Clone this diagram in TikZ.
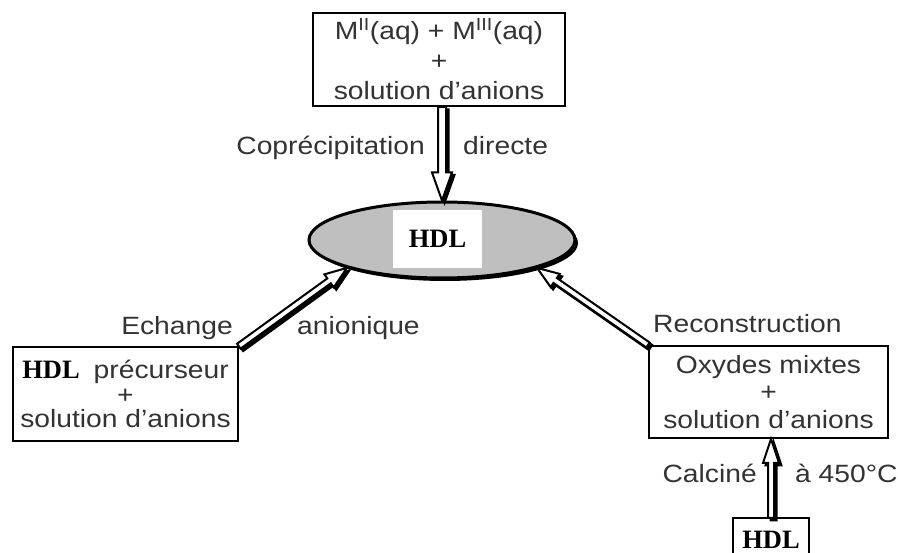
\documentclass[tikz,border=0pt]{standalone}
\usepackage{fontspec}
\setmainfont{Liberation Sans}[FakeStretch=1.13]
\newfontfamily\hdlserif{Liberation Serif}
\usetikzlibrary{calc,shadows,shapes.geometric}
\newcommand{\hdl}{{\color{black}\hdlserif\bfseries\fontsize{26.5}{30}\selectfont HDL}}
\newcommand{\harrow}[5]{%
  \draw[arrowbody] ($(#1)!#3!90:(#2)$) -- ($(#2)!#5!(#1)!#3!-90:(#1)$) -- ($(#2)!#5!(#1)!#4!-90:(#1)$) -- (#2) -- ($(#2)!#5!(#1)!#4!90:(#1)$) -- ($(#2)!#5!(#1)!#3!90:(#1)$) -- ($(#1)!#3!-90:(#2)$) -- cycle;}
\begin{document}
\begin{tikzpicture}[x=1pt,y=-1pt,
  txt/.style={font=\fontsize{25}{30}\selectfont, text=black!80, inner sep=0pt},
  box/.style={txt, draw=black, line width=2pt, align=center},
  arrowbody/.style={fill=white, draw=black, line width=2pt, line join=miter,
    preaction={fill=black, draw=black, line width=2pt, transform canvas={shift={(2.5pt,-2.5pt)}}}}]
\fill[white] (0,0) rectangle (898,553);
\useasboundingbox (0,0) rectangle (898,553);

\node[box, minimum width=252pt, minimum height=93pt] (top) at (439,59.5)
  {M\textsuperscript{II}(aq) + M\textsuperscript{III}(aq)\\+\\solution d’anions};

\node[ellipse, draw=black, line width=3pt, fill=black!25, minimum width=266pt, minimum height=76pt, inner sep=0pt,
  drop shadow={shadow xshift=3pt, shadow yshift=-3pt, fill=black, opacity=1}] (hdl) at (442,240) {};

\node[box, line width=1.6pt, minimum width=225pt, minimum height=94pt, font=\fontsize{25}{24.5}\selectfont] (lbox) at (125.5,394)
  {\hdl\hspace{14pt}précurseur\\+\\solution d’anions};

\node[box, minimum width=239pt, minimum height=92pt, font=\fontsize{25}{27.5}\selectfont] (rbox) at (768.5,392)
  {Oxydes mixtes\\+\\solution d’anions};

\node[minimum width=76pt, inner xsep=0pt, inner ysep=3pt, text height=27pt, text depth=0pt, anchor=north] (sbox) at (771,518) {\hdl};
\draw[line width=2pt] ([yshift=-12pt]sbox.south west) -- (sbox.north west) -- (sbox.north east) -- ([yshift=-12pt]sbox.south east);

\coordinate (ta) at (top.south -| hdl.north);
\harrow{ta}{hdl.north}{4pt}{10pt}{28pt}
\harrow{lbox.north east}{hdl.south west}{3pt}{8pt}{22pt}
\harrow{rbox.north west}{hdl.south east}{3pt}{8pt}{22pt}
\coordinate (ba) at (sbox.north |- rbox.south);
\harrow{sbox.north}{ba}{3pt}{8pt}{24pt}

\node[fill=white, minimum width=89pt, minimum height=58pt, inner sep=0pt] (hdltxt) at (437.5,239) {\hdl};

\node[txt, anchor=base east] (l1) at (425,155) {Coprécipitation};
\node[txt, anchor=base west] (l2) at (463,155) {directe};
\node[txt, anchor=base east] (l3) at (233,335) {Echange};
\node[txt, anchor=base west] (l4) at (297,335) {anionique};
\node[txt, anchor=base west] (l5) at (653,333) {Reconstruction};
\node[txt, anchor=base east] (l6) at (757,483) {Calciné};
\node[txt, anchor=base west] (l7) at (795,483) {à 450°C};
\end{tikzpicture}
\end{document}
